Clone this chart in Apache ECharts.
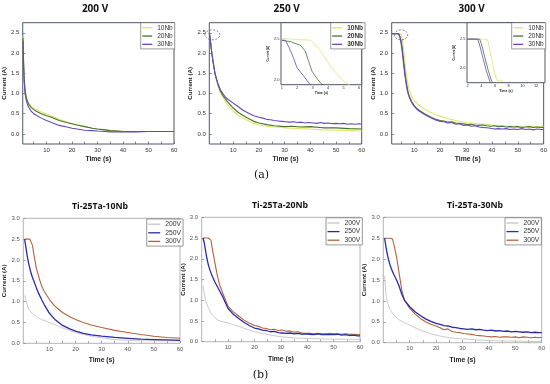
<!DOCTYPE html>
<html><head><meta charset="utf-8">
<script src="https://cdn.jsdelivr.net/npm/echarts@6/dist/echarts.min.js"></script>
<style>html,body{margin:0;padding:0;background:#fff}#c{width:550px;height:384px}</style>
</head><body><div id="c"></div>
<script>
// ---------- DATA ----------
// (a) 200 V
const tA1 = [0.8, 1.0, 1.25, 1.6, 2.0, 2.5, 3, 4, 5, 6, 8, 10, 12, 15, 18, 20, 22, 25, 28, 30, 33, 35, 38, 40, 45, 50, 55, 60];
const a1_10 = [2.4, 1.9, 1.42, 1.12, 0.95, 0.84, 0.77, 0.68, 0.63, 0.6, 0.54, 0.49, 0.44, 0.36, 0.29, 0.25, 0.22, 0.18, 0.14, 0.12, 0.1, 0.08, 0.07, 0.06, 0.06, 0.06, 0.06, 0.06];
const a1_20 = [2.38, 1.85, 1.38, 1.08, 0.92, 0.81, 0.74, 0.65, 0.6, 0.56, 0.5, 0.45, 0.41, 0.33, 0.28, 0.25, 0.22, 0.18, 0.14, 0.12, 0.1, 0.08, 0.07, 0.06, 0.06, 0.06, 0.06, 0.06];
const a1_30 = [2.3, 1.75, 1.3, 1.0, 0.85, 0.74, 0.66, 0.56, 0.5, 0.46, 0.39, 0.33, 0.28, 0.21, 0.17, 0.14, 0.12, 0.09, 0.08, 0.07, 0.06, 0.05, 0.05, 0.05, 0.05, 0.06, 0.06, 0.06];
// (a) 250 V
const tA2 = [0.7, 0.9, 1.3, 1.7, 2.1, 2.5, 2.9, 3.5, 4.2, 5, 6, 7, 8, 10, 12, 15, 18, 20, 23, 26, 30, 33, 36, 40, 45, 50, 55, 60];
const a2_10 = [2.5, 2.42, 2.2, 1.98, 1.8, 1.63, 1.48, 1.32, 1.17, 1.02, 0.9, 0.8, 0.7, 0.56, 0.46, 0.35, 0.26, 0.22, 0.19, 0.17, 0.15, 0.14, 0.13, 0.12, 0.1, 0.09, 0.08, 0.07];
const a2_20 = [2.5, 2.43, 2.22, 2.0, 1.82, 1.66, 1.5, 1.35, 1.2, 1.06, 0.95, 0.86, 0.78, 0.64, 0.53, 0.41, 0.31, 0.27, 0.23, 0.2, 0.18, 0.19, 0.17, 0.18, 0.15, 0.15, 0.13, 0.12];
const tA2d = [0.7, 0.9, 1.3, 1.7, 2.1, 2.5, 2.9, 3.5, 4.2, 5, 6, 7, 8, 10, 12, 14, 16, 18, 20, 21.5, 23, 24.5, 26, 27.5, 29, 30.5, 32, 33.5, 35, 36.5, 38, 39.5, 41, 42.5, 44, 45.5, 47, 48.5, 50, 51.5, 53, 54.5, 56, 57.5, 59, 60];
const a2_30 = [2.5, 2.42, 2.2, 1.98, 1.81, 1.65, 1.5, 1.36, 1.22, 1.09, 0.99, 0.91, 0.85, 0.76, 0.67, 0.58, 0.51, 0.45, 0.41, 0.39, 0.36, 0.35, 0.33, 0.32, 0.31, 0.30, 0.29, 0.30, 0.28, 0.29, 0.27, 0.28, 0.27, 0.26, 0.28, 0.26, 0.27, 0.25, 0.26, 0.25, 0.26, 0.24, 0.25, 0.24, 0.25, 0.24];
// (a) 300 V
const tA3 = [1.3, 2, 3, 4, 4.5, 5, 5.5, 6, 6.5, 7, 7.5, 8, 9, 10, 11, 12, 14, 16, 18, 20, 23, 26, 30, 35, 40, 45, 50, 55, 60];
const a3_10 = [2.48, 2.48, 2.48, 2.48, 2.48, 2.46, 2.3, 2.0, 1.72, 1.45, 1.25, 1.1, 0.93, 0.83, 0.76, 0.7, 0.61, 0.54, 0.48, 0.44, 0.38, 0.33, 0.28, 0.25, 0.22, 0.2, 0.19, 0.19, 0.18];
const tA3d = [1.3, 2, 3, 4, 4.5, 5, 5.5, 6, 6.5, 7, 7.5, 8, 9, 10, 11, 12, 14, 16, 18, 20, 21.5, 23, 24.5, 26, 27.5, 29, 30.5, 32, 33.5, 35, 36.5, 38, 39.5, 41, 42.5, 44, 45.5, 47, 48.5, 50, 51.5, 53, 54.5, 56, 57.5, 59, 60];
const a3_20 = [2.48, 2.48, 2.48, 2.48, 2.45, 2.3, 2.05, 1.75, 1.48, 1.25, 1.07, 0.95, 0.8, 0.7, 0.63, 0.58, 0.5, 0.43, 0.37, 0.33, 0.32, 0.29, 0.3, 0.27, 0.26, 0.25, 0.23, 0.24, 0.22, 0.21, 0.22, 0.2, 0.19, 0.2, 0.18, 0.19, 0.17, 0.18, 0.17, 0.18, 0.16, 0.17, 0.18, 0.16, 0.17, 0.16, 0.16];
const a3_30 = [2.48, 2.48, 2.48, 2.47, 2.4, 2.2, 1.95, 1.65, 1.4, 1.18, 1.02, 0.92, 0.78, 0.68, 0.61, 0.56, 0.48, 0.41, 0.35, 0.31, 0.3, 0.27, 0.28, 0.24, 0.25, 0.21, 0.22, 0.19, 0.2, 0.17, 0.16, 0.15, 0.14, 0.12, 0.13, 0.12, 0.13, 0.11, 0.12, 0.11, 0.13, 0.11, 0.12, 0.1, 0.12, 0.11, 0.11];
// insets
const tI2_10 = [1, 2, 2.85, 3.06, 3.5, 4, 4.5, 5, 5.4];
const i2_10 = [2.5, 2.49, 2.48, 2.45, 2.35, 2.21, 2.09, 1.99, 1.94];
const tI2_20 = [1, 1.6, 2.2, 2.52, 2.75, 2.95, 3.2, 3.5, 3.7];
const i2_20 = [2.48, 2.46, 2.42, 2.35, 2.22, 2.11, 2.04, 1.97, 1.94];
const tI2_30 = [1, 1.24, 1.45, 1.67, 1.99, 2.42, 2.74, 2.9];
const i2_30 = [2.48, 2.48, 2.4, 2.31, 2.15, 2.05, 1.97, 1.93];
const tI3_10 = [1.9, 4.8, 5.0, 5.5, 6.0, 6.3, 7.2];
const i3_10 = [2.5, 2.5, 2.45, 2.15, 1.87, 1.765, 1.76];
const tI3_20 = [1.9, 3.75, 4.0, 4.5, 5.0, 5.5, 5.8];
const i3_20 = [2.5, 2.5, 2.42, 2.18, 1.95, 1.76, 1.7];
const tI3_30 = [1.9, 3.45, 3.7, 4.2, 4.7, 5.25, 5.5];
const i3_30 = [2.5, 2.5, 2.42, 2.18, 1.95, 1.75, 1.7];
// (b)
const tB = [0.5, 1, 1.5, 2, 2.5, 3, 3.5, 4, 5, 6, 7, 8, 10, 12, 15, 18, 20, 23, 26, 30, 35, 40, 45, 50, 55, 60];
const tBd = [0.5, 1, 1.5, 2, 2.5, 3, 3.5, 4, 5, 6, 7, 8, 10, 12, 14, 16, 18, 20, 21.5, 23, 24.5, 26, 27.5, 29, 30.5, 32, 33.5, 35, 36.5, 38, 39.5, 41, 42.5, 44, 45.5, 47, 48.5, 50, 51.5, 53, 54.5, 56, 57.5, 59, 60];
const b1_200 = [1.15, 1.05, 0.92, 0.83, 0.78, 0.74, 0.71, 0.68, 0.64, 0.6, 0.57, 0.55, 0.5, 0.45, 0.37, 0.3, 0.26, 0.21, 0.17, 0.13, 0.09, 0.07, 0.06, 0.06, 0.06, 0.06];
const b1_250 = [2.5, 2.3, 2.1, 1.93, 1.8, 1.68, 1.58, 1.5, 1.33, 1.18, 1.05, 0.93, 0.72, 0.58, 0.43, 0.34, 0.29, 0.24, 0.2, 0.17, 0.14, 0.12, 0.1, 0.09, 0.08, 0.07];
const b1_300 = [2.5, 2.5, 2.5, 2.5, 2.5, 2.5, 2.35, 2.15, 1.8, 1.58, 1.38, 1.25, 1.05, 0.9, 0.74, 0.63, 0.57, 0.5, 0.44, 0.38, 0.31, 0.26, 0.21, 0.17, 0.14, 0.12];
const b2_200 = [1.35, 1.15, 1.0, 0.9, 0.82, 0.76, 0.7, 0.65, 0.58, 0.53, 0.5, 0.48, 0.45, 0.41, 0.35, 0.28, 0.24, 0.2, 0.16, 0.12, 0.09, 0.08, 0.07, 0.06, 0.06, 0.06];
const b2_250 = [2.5, 2.38, 2.18, 2.0, 1.86, 1.75, 1.66, 1.58, 1.44, 1.32, 1.2, 1.08, 0.8, 0.66, 0.56, 0.47, 0.39, 0.33, 0.31, 0.28, 0.27, 0.24, 0.25, 0.22, 0.21, 0.2, 0.21, 0.19, 0.2, 0.18, 0.19, 0.18, 0.17, 0.19, 0.17, 0.18, 0.17, 0.17, 0.18, 0.16, 0.17, 0.15, 0.16, 0.14, 0.14];
const b2_300 = [2.5, 2.5, 2.5, 2.5, 2.5, 2.5, 2.45, 2.25, 1.9, 1.57, 1.33, 1.17, 0.85, 0.72, 0.62, 0.52, 0.45, 0.39, 0.37, 0.33, 0.32, 0.29, 0.3, 0.27, 0.28, 0.25, 0.26, 0.23, 0.24, 0.21, 0.2, 0.2, 0.19, 0.2, 0.19, 0.18, 0.2, 0.19, 0.19, 0.18, 0.19, 0.18, 0.18, 0.17, 0.17];
const b3_200 = [1.6, 1.15, 0.98, 0.88, 0.8, 0.75, 0.7, 0.66, 0.6, 0.55, 0.51, 0.48, 0.42, 0.36, 0.28, 0.21, 0.18, 0.14, 0.11, 0.09, 0.07, 0.05, 0.04, 0.04, 0.03, 0.03];
const b3_250 = [2.5, 2.3, 2.12, 1.98, 1.87, 1.78, 1.7, 1.63, 1.5, 1.35, 1.16, 1.02, 0.86, 0.74, 0.65, 0.57, 0.51, 0.46, 0.44, 0.41, 0.4, 0.37, 0.36, 0.34, 0.33, 0.32, 0.33, 0.31, 0.32, 0.3, 0.29, 0.3, 0.28, 0.29, 0.27, 0.28, 0.26, 0.27, 0.26, 0.25, 0.26, 0.24, 0.25, 0.24, 0.24];
const b3_300 = [2.5, 2.5, 2.5, 2.5, 2.5, 2.5, 2.48, 2.35, 2.06, 1.66, 1.26, 1.02, 0.82, 0.69, 0.58, 0.5, 0.44, 0.4, 0.36, 0.31, 0.33, 0.27, 0.25, 0.24, 0.22, 0.21, 0.2, 0.18, 0.17, 0.16, 0.15, 0.14, 0.15, 0.13, 0.14, 0.14, 0.13, 0.14, 0.12, 0.14, 0.13, 0.12, 0.13, 0.12, 0.13];
// tick labels
const xTicksMain = [10, 20, 30, 40, 50, 60];
const xTicksMinor = [5, 10, 15, 20, 25, 30, 35, 40, 45, 50, 55, 60];
const yTicksA = [0, 0.5, 1, 1.5, 2, 2.5];
const yTicksB = [0, 0.5, 1, 1.5, 2, 2.5, 3];
const xTicksI2 = [1, 2, 3, 4, 5, 6];
const xTicksI3 = [2, 4, 6, 8, 10, 12];
const yTicksI = [2, 2.5];
const namesA = ['10Nb', '20Nb', '30Nb'];
const namesB = ['200V', '250V', '300V'];

// ---------- STYLE ----------
const F = 'Liberation Sans, Arial, sans-serif';
const colA = {'10Nb': '#e3e36e', '20Nb': '#47732c', '30Nb': '#6848b8'};
const colB = {'200V': '#c4c4c4', '250V': '#2a2aa6', '300V': '#b3623e'};
const pairs = (t, y) => t.map((v, i) => [v, y[i]]);

const gridDefs = [
  {left: 22.7, top: 22.7, width: 151.3, height: 121.3, row: 'a'},
  {left: 209.3, top: 22.7, width: 152.4, height: 121.3, row: 'a'},
  {left: 391.7, top: 22.7, width: 153.3, height: 121.3, row: 'a'},
  {left: 281, top: 22.7, width: 80.7, height: 62, row: 'i'},
  {left: 467, top: 22.7, width: 78, height: 60, row: 'i'},
  {left: 23.3, top: 218.3, width: 156.7, height: 125, row: 'b'},
  {left: 201.7, top: 217.3, width: 158.3, height: 124.4, row: 'b'},
  {left: 383.3, top: 217.3, width: 158.4, height: 125.4, row: 'b'}
];
const grid = gridDefs.map(g => ({left: g.left, top: g.top, width: g.width, height: g.height, show: true,
  backgroundColor: '#fff', borderColor: g.row === 'b' ? '#a0a0a0' : '#50566e', borderWidth: g.row === 'b' ? 0.8 : 1, z: g.row === 'i' ? 5 : 0}));

const xCfg = [
  {min: 0.7, max: 60, ticks: xTicksMain, minor: xTicksMinor, gap: 11.5},
  {min: 0.7, max: 60, ticks: xTicksMain, minor: xTicksMinor, gap: 11.5},
  {min: 1.3, max: 60, ticks: xTicksMain, minor: xTicksMinor, gap: 11.5},
  {min: 0.95, max: 6.17, ticks: xTicksI2, minor: xTicksI2, gap: 5},
  {min: 1.9, max: 13.3, ticks: xTicksI3, minor: xTicksI3, gap: 5},
  {min: 0, max: 60, ticks: xTicksMain, minor: xTicksMinor, gap: 13},
  {min: 0, max: 60, ticks: xTicksMain, minor: xTicksMinor, gap: 14},
  {min: 0, max: 60, ticks: xTicksMain, minor: xTicksMinor, gap: 14}
];
const yCfg = [
  {min: -0.25, max: 2.75, ticks: yTicksA, gap: 14},
  {min: -0.25, max: 2.75, ticks: yTicksA, gap: 13},
  {min: -0.25, max: 2.75, ticks: yTicksA, gap: 12},
  {min: 1.947, max: 2.69, ticks: yTicksI, gap: 8},
  {min: 1.73, max: 2.79, ticks: yTicksI, gap: 8},
  {min: 0, max: 3, ticks: yTicksB, gap: 10.5},
  {min: 0, max: 3, ticks: yTicksB, gap: 12.5},
  {min: 0, max: 3, ticks: yTicksB, gap: 13.5}
];

const xAxis = xCfg.map((c, i) => {
  const inset = gridDefs[i].row === 'i', rb = gridDefs[i].row === 'b';
  return {type: 'value', gridIndex: i, min: c.min, max: c.max, position: 'bottom', name: 'Time (s)', nameLocation: 'middle', nameGap: c.gap,
    nameTextStyle: {fontFamily: F, fontWeight: 'bold', fontSize: inset ? 3.5 : 6.8, color: '#222'},
    axisLine: {show: false, onZero: false}, splitLine: {show: false},
    axisTick: {show: true, inside: true, length: inset ? 1.5 : 2.5, customValues: c.minor, lineStyle: {color: rb ? '#888' : '#50566e', width: 0.7}},
    axisLabel: {customValues: c.ticks, fontFamily: F, fontSize: inset ? 4 : 6, margin: inset ? 1.5 : 3, color: rb ? '#555' : '#333'}};
});
const yAxis = yCfg.map((c, i) => {
  const inset = gridDefs[i].row === 'i', rb = gridDefs[i].row === 'b';
  return {type: 'value', gridIndex: i, min: c.min, max: c.max, position: 'left', name: 'Current (A)', nameLocation: 'middle', nameGap: c.gap,
    nameTextStyle: {fontFamily: F, fontWeight: 'bold', fontSize: inset ? 3 : 6.2, color: '#222'},
    axisLine: {show: false, onZero: false}, splitLine: {show: false},
    axisTick: {show: true, inside: true, length: inset ? 1.5 : 2.5, customValues: c.ticks, lineStyle: {color: rb ? '#888' : '#50566e', width: 0.7}},
    axisLabel: {customValues: c.ticks, formatter: v => v.toFixed(1), fontFamily: F, fontSize: inset ? 4 : 6, margin: inset ? 1.5 : 3.5, color: rb ? '#555' : '#333'}};
});

const series = [];
function addS(gi, name, t, y, color, width, z) {
  series.push({type: 'line', name, xAxisIndex: gi, yAxisIndex: gi, data: pairs(t, y), symbol: 'none', showSymbol: false,
    lineStyle: {color, width}, itemStyle: {color}, z: z || 2, animation: false, clip: true});
}
addS(0, '10Nb', tA1, a1_10, colA['10Nb'], 1.1);
addS(0, '20Nb', tA1, a1_20, colA['20Nb'], 1.1);
addS(0, '30Nb', tA1, a1_30, colA['30Nb'], 1.1);
addS(1, '10Nb', tA2, a2_10, colA['10Nb'], 1.1);
addS(1, '20Nb', tA2, a2_20, colA['20Nb'], 1.1);
addS(1, '30Nb', tA2d, a2_30, colA['30Nb'], 1.1);
addS(2, '10Nb', tA3, a3_10, colA['10Nb'], 1.1);
addS(2, '20Nb', tA3d, a3_20, colA['20Nb'], 1.1);
addS(2, '30Nb', tA3d, a3_30, colA['30Nb'], 1.1);
addS(3, '10Nb', tI2_10, i2_10, colA['10Nb'], 0.8, 6);
addS(3, '20Nb', tI2_20, i2_20, colA['20Nb'], 0.8, 6);
addS(3, '30Nb', tI2_30, i2_30, colA['30Nb'], 0.8, 6);
addS(4, '10Nb', tI3_10, i3_10, colA['10Nb'], 0.8, 6);
addS(4, '20Nb', tI3_20, i3_20, colA['20Nb'], 0.8, 6);
addS(4, '30Nb', tI3_30, i3_30, colA['30Nb'], 0.8, 6);
addS(5, '200V', tB, b1_200, colB['200V'], 0.9);
addS(5, '300V', tB, b1_300, colB['300V'], 1.1);
addS(5, '250V', tB, b1_250, colB['250V'], 1.3);
addS(6, '200V', tB, b2_200, colB['200V'], 0.9);
addS(6, '300V', tBd, b2_300, colB['300V'], 1.1);
addS(6, '250V', tBd, b2_250, colB['250V'], 1.3);
addS(7, '200V', tB, b3_200, colB['200V'], 0.9);
addS(7, '300V', tBd, b3_300, colB['300V'], 1.1);
addS(7, '250V', tBd, b3_250, colB['250V'], 1.3);

function leg(left, top, names, bold, fs, w) {
  return {orient: 'vertical', left, top, data: names, selectedMode: false, icon: 'rect', itemWidth: w || 10, itemHeight: 1.3, itemGap: 1.2,
    padding: [1.5, 2, 1, 1.5], borderColor: '#555', borderWidth: 0.6, backgroundColor: '#fff', z: 8,
    textStyle: {fontFamily: F, fontSize: fs, lineHeight: fs + 0.6, color: '#333', fontWeight: bold ? 'bold' : 'normal'}};
}
const legend = [
  leg(140.7, 22.7, namesA, false, 6.5),
  leg(330.7, 22.7, namesA, true, 6.5),
  leg(511.7, 22.7, namesA, false, 6.5),
  leg(146.7, 219, namesB, false, 6.8, 12),
  leg(326, 217.8, namesB, false, 6.8, 12),
  leg(505, 217.8, namesB, false, 6.8, 12)
];

const TF = '"Open Sans", "DejaVu Sans", sans-serif';
const txt = (x, y, s, font) => ({type: 'text', x, y, z: 10, style: {text: s, x: 0, y: 0, align: 'center', verticalAlign: 'middle', font, fill: '#111'}});
const graphic = [
  txt(95, 9, '200 V', 'bold 10px ' + TF),
  txt(286.7, 9, '250 V', 'bold 10px ' + TF),
  txt(471.7, 9, '300 V', 'bold 10px ' + TF),
  txt(100, 207, 'Ti-25Ta-10Nb', 'bold 8.7px ' + TF),
  txt(280, 206, 'Ti-25Ta-20Nb', 'bold 8.7px ' + TF),
  txt(475, 206, 'Ti-25Ta-30Nb', 'bold 8.7px ' + TF),
  txt(261.5, 175, '(a)', '11px "DejaVu Serif", serif'),
  txt(260.5, 375, '(b)', '11px "DejaVu Serif", serif')
];

const chart = echarts.init(document.getElementById('c'), null, {renderer: 'canvas'});
chart.setOption({animation: false, grid, xAxis, yAxis, series, legend, graphic});
// dashed circles marking the zoomed region
const c1 = chart.convertToPixel({gridIndex: 1}, [1.9, 2.45]);
const c2 = chart.convertToPixel({gridIndex: 2}, [4.9, 2.45]);
chart.setOption({graphic: graphic.concat([
  {type: 'ellipse', z: 10, shape: {cx: c1[0], cy: c1[1], rx: 7.5, ry: 5}, style: {fill: 'none', stroke: '#666', lineWidth: 0.8, lineDash: [2, 1.5]}},
  {type: 'ellipse', z: 10, shape: {cx: c2[0], cy: c2[1], rx: 6.7, ry: 5}, style: {fill: 'none', stroke: '#666', lineWidth: 0.8, lineDash: [2, 1.5]}}
])});
</script></body></html>
